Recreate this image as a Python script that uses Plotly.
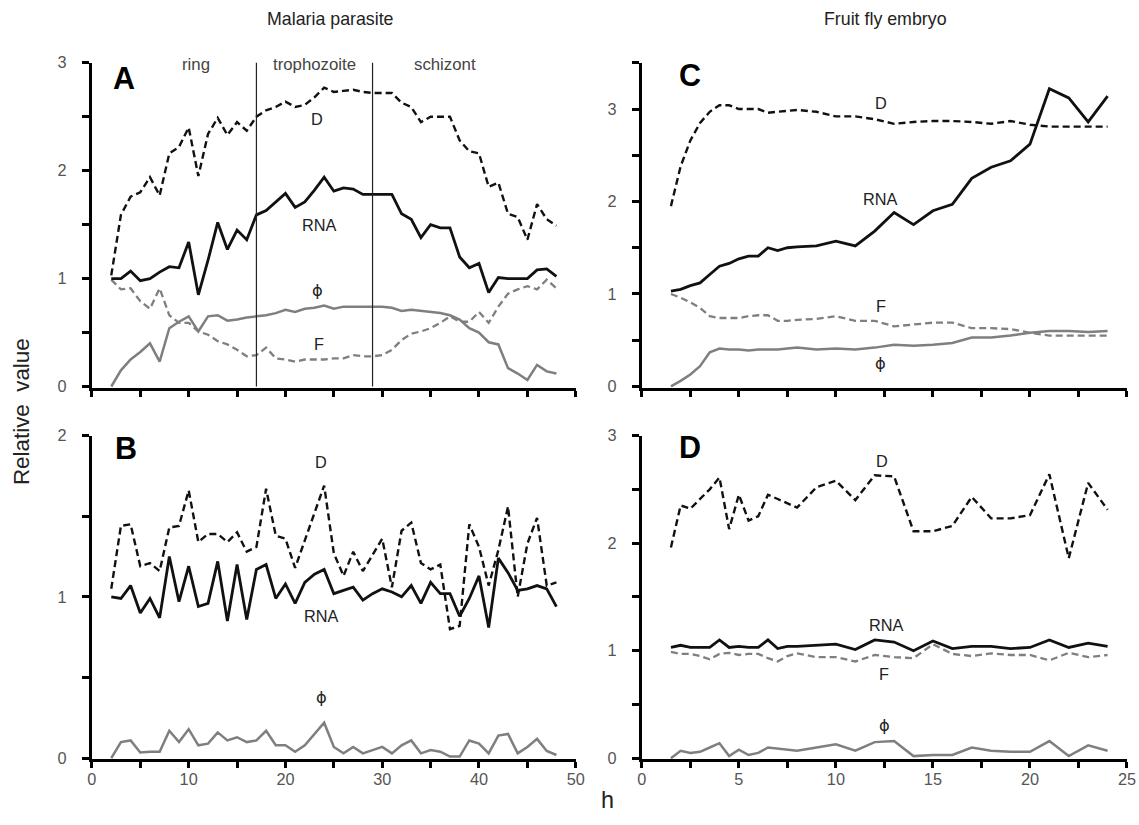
import plotly.graph_objects as go

# ---------------- data ----------------
# Malaria parasite (hours 2..48)
hours_malaria = list(range(2, 49))
A_D = [1.03, 1.59, 1.76, 1.80, 1.94, 1.77, 2.16, 2.22, 2.40, 1.95, 2.34, 2.49, 2.33, 2.45, 2.37, 2.50,
       2.56, 2.59, 2.64, 2.59, 2.61, 2.68, 2.77, 2.73, 2.74, 2.75, 2.73, 2.72, 2.72, 2.72, 2.63, 2.59,
       2.45, 2.50, 2.50, 2.50, 2.28, 2.18, 2.16, 1.85, 1.89, 1.60, 1.57, 1.36, 1.69, 1.55, 1.49]
A_RNA = [1.00, 1.00, 1.07, 0.98, 1.00, 1.06, 1.11, 1.10, 1.34, 0.85, 1.17, 1.52, 1.27, 1.45, 1.36, 1.59,
         1.63, 1.71, 1.79, 1.66, 1.71, 1.82, 1.94, 1.81, 1.84, 1.83, 1.78, 1.78, 1.78, 1.78, 1.60, 1.55,
         1.38, 1.50, 1.47, 1.47, 1.20, 1.10, 1.14, 0.87, 1.01, 1.00, 1.00, 1.00, 1.08, 1.09, 1.02]
A_F = [0.99, 0.90, 0.91, 0.79, 0.72, 0.91, 0.66, 0.59, 0.59, 0.51, 0.48, 0.42, 0.39, 0.34, 0.28, 0.29,
       0.36, 0.26, 0.25, 0.23, 0.25, 0.25, 0.25, 0.26, 0.26, 0.29, 0.28, 0.28, 0.29, 0.34, 0.43, 0.49,
       0.51, 0.54, 0.59, 0.65, 0.60, 0.60, 0.69, 0.59, 0.74, 0.86, 0.90, 0.93, 0.90, 0.99, 0.91]
A_PHI = [0.00, 0.15, 0.25, 0.32, 0.40, 0.23, 0.54, 0.60, 0.65, 0.51, 0.65, 0.66, 0.61, 0.62, 0.64, 0.65,
         0.66, 0.68, 0.71, 0.69, 0.72, 0.73, 0.75, 0.72, 0.74, 0.74, 0.74, 0.74, 0.74, 0.73, 0.70, 0.71,
         0.70, 0.69, 0.68, 0.66, 0.62, 0.54, 0.50, 0.41, 0.39, 0.17, 0.12, 0.06, 0.20, 0.14, 0.12]

B_D = [1.05, 1.44, 1.45, 1.19, 1.21, 1.16, 1.43, 1.44, 1.66, 1.34, 1.39, 1.39, 1.34, 1.40, 1.28, 1.31,
       1.67, 1.38, 1.36, 1.18, 1.35, 1.52, 1.69, 1.27, 1.13, 1.28, 1.16, 1.26, 1.36, 1.06, 1.41, 1.46,
       1.21, 1.17, 1.20, 0.80, 0.82, 1.45, 1.31, 1.07, 1.29, 1.56, 1.00, 1.33, 1.49, 1.07, 1.09]
B_RNA = [1.00, 0.99, 1.07, 0.90, 0.99, 0.87, 1.25, 0.97, 1.19, 0.94, 0.96, 1.22, 0.85, 1.20, 0.86, 1.17,
         1.20, 0.99, 1.08, 0.96, 1.09, 1.14, 1.17, 1.02, 1.04, 1.06, 0.98, 1.02, 1.05, 1.03, 1.00, 1.07,
         0.96, 1.09, 1.02, 1.02, 0.88, 0.99, 1.13, 0.81, 1.24, 1.15, 1.04, 1.05, 1.07, 1.05, 0.94]
B_PHI = [0.00, 0.10, 0.11, 0.035, 0.04, 0.04, 0.17, 0.10, 0.18, 0.08, 0.09, 0.16, 0.11, 0.13, 0.10, 0.11,
         0.17, 0.08, 0.08, 0.04, 0.08, 0.15, 0.22, 0.07, 0.03, 0.07, 0.03, 0.05, 0.07, 0.03, 0.08, 0.11,
         0.03, 0.05, 0.04, 0.01, 0.01, 0.11, 0.09, 0.03, 0.14, 0.15, 0.03, 0.07, 0.12, 0.045, 0.02]

stage_bounds = [17, 29]
stage_names = ["ring", "trophozoite", "schizont"]
stage_label_x = [10.8, 23.0, 36.5]

# Fruit fly embryo
hours_fly = [1.5, 2, 2.5, 3, 3.5, 4, 4.5, 5, 5.5, 6, 6.5, 7, 7.5, 8,
             9, 10, 11, 12, 13, 14, 15, 16, 17, 18, 19, 20, 21, 22, 23, 24]
C_D = [1.95, 2.38, 2.66, 2.85, 2.97, 3.04, 3.04, 3.00, 3.00, 3.00, 2.96, 2.97, 2.98, 2.99,
       2.97, 2.92, 2.92, 2.89, 2.84, 2.86, 2.87, 2.87, 2.86, 2.84, 2.87, 2.83, 2.81, 2.81, 2.81, 2.81]
C_RNA = [1.03, 1.05, 1.09, 1.12, 1.21, 1.30, 1.33, 1.38, 1.41, 1.41, 1.50, 1.47, 1.50, 1.51,
         1.52, 1.57, 1.52, 1.68, 1.88, 1.75, 1.90, 1.97, 2.25, 2.37, 2.44, 2.62, 3.22, 3.12, 2.86, 3.14]
C_F = [1.00, 0.96, 0.91, 0.85, 0.76, 0.74, 0.74, 0.74, 0.76, 0.77, 0.77, 0.71, 0.71, 0.72,
       0.73, 0.76, 0.71, 0.71, 0.65, 0.67, 0.69, 0.69, 0.63, 0.63, 0.62, 0.58, 0.55, 0.55, 0.55, 0.55]
C_PHI = [0.00, 0.06, 0.13, 0.22, 0.37, 0.41, 0.40, 0.40, 0.39, 0.40, 0.40, 0.40, 0.41, 0.42,
         0.40, 0.41, 0.40, 0.42, 0.45, 0.44, 0.45, 0.47, 0.53, 0.53, 0.55, 0.58, 0.60, 0.60, 0.59, 0.60]

D_D = [1.96, 2.35, 2.32, 2.41, 2.50, 2.61, 2.13, 2.45, 2.21, 2.25, 2.45, 2.41, 2.37, 2.33,
       2.52, 2.58, 2.40, 2.63, 2.62, 2.11, 2.11, 2.16, 2.43, 2.23, 2.23, 2.26, 2.64, 1.86, 2.56, 2.31]
D_RNA = [1.03, 1.05, 1.03, 1.03, 1.03, 1.10, 1.03, 1.04, 1.03, 1.03, 1.10, 1.02, 1.04, 1.04,
         1.05, 1.06, 1.01, 1.10, 1.08, 1.00, 1.09, 1.02, 1.04, 1.04, 1.02, 1.03, 1.10, 1.03, 1.07, 1.04]
D_F = [0.99, 0.97, 0.97, 0.95, 0.92, 0.97, 0.98, 0.96, 0.97, 0.97, 0.93, 0.90, 0.95, 0.975,
       0.94, 0.94, 0.90, 0.96, 0.94, 0.93, 1.06, 0.97, 0.95, 0.975, 0.96, 0.96, 0.91, 0.98, 0.94, 0.96]
D_PHI = [0.00, 0.07, 0.05, 0.06, 0.10, 0.14, 0.02, 0.08, 0.03, 0.05, 0.10, 0.09, 0.08, 0.07,
         0.10, 0.13, 0.07, 0.15, 0.16, 0.02, 0.03, 0.03, 0.10, 0.07, 0.06, 0.06, 0.16, 0.02, 0.12, 0.07]

# ---------------- styling ----------------
FONT = "Liberation Sans, Arial, Helvetica, sans-serif"
PHI_FONT = "DejaVu Sans, Liberation Sans, sans-serif"
BLACK = "#111111"
GRAY = "#7f7f7f"
DASH = "7px,4px"

styles = {
    "D": dict(color=BLACK, width=2.4, dash=DASH),
    "RNA": dict(color=BLACK, width=2.8, dash="solid"),
    "F": dict(color=GRAY, width=2.3, dash=DASH),
    "PHI": dict(color=GRAY, width=2.5, dash="solid"),
}

fig = go.Figure()

panels = [
    ("x", "y", hours_malaria, {"D": A_D, "RNA": A_RNA, "F": A_F, "PHI": A_PHI}),
    ("x2", "y2", hours_malaria, {"D": B_D, "RNA": B_RNA, "PHI": B_PHI}),
    ("x3", "y3", hours_fly, {"D": C_D, "RNA": C_RNA, "F": C_F, "PHI": C_PHI}),
    ("x4", "y4", hours_fly, {"D": D_D, "RNA": D_RNA, "F": D_F, "PHI": D_PHI}),
]
for xa, ya, xs, series in panels:
    for key in ["PHI", "F", "RNA", "D"]:
        if key in series:
            fig.add_trace(go.Scatter(x=xs, y=series[key], mode="lines", xaxis=xa, yaxis=ya,
                                     line=styles[key], showlegend=False, hoverinfo="skip"))

# stage boundaries in panel A
for b in stage_bounds:
    fig.add_shape(type="line", xref="x", yref="y", x0=b, x1=b, y0=0, y1=3.08,
                  line=dict(color="#222222", width=1.2))

W, H = 1139, 825
# empirical correction between page pixels and the photographed picture
SX, OX = 0.99, 3.4
SY, OY = 0.98, 8.2

def fx(t):  # target picture pixel -> paper x
    return ((t - OX) / SX) / W

def fy(t):  # target picture pixel -> paper y
    return 1 - ((t - OY) / SY) / H

left_dom = [fx(90.5), fx(575.5)]
right_dom = [fx(641.7), fx(1128)]
top_dom = [fy(387), fy(62)]
bot_dom = [fy(759), fy(435)]

tickfont = dict(family=FONT, size=16.3, color="#555555")

def xaxis(dom, rng, dtick, minor, labels, anchor):
    return dict(domain=dom, range=rng, anchor=anchor, showgrid=False, zeroline=False,
                showline=True, linecolor="black", linewidth=3,
                ticks="outside", ticklen=6, tickwidth=2.5, tickcolor="black",
                dtick=dtick, tick0=0, showticklabels=labels, tickfont=tickfont,
                ticklabelstandoff=-3, ticklabeloverflow="allow",
                minor=dict(dtick=minor, tick0=0, ticks="outside", ticklen=6, tickwidth=2.5,
                           tickcolor="black", showgrid=False))

def yaxis(dom, rng, anchor):
    return dict(domain=dom, range=rng, anchor=anchor, showgrid=False, zeroline=False,
                showline=True, linecolor="black", linewidth=3,
                ticks="outside", ticklen=7, tickwidth=2.5, tickcolor="black",
                dtick=1, tick0=0, tickfont=tickfont, ticklabelstandoff=12,
                minor=dict(dtick=0.5, tick0=0, ticks="outside", ticklen=7, tickwidth=2.5,
                           tickcolor="black", showgrid=False))

fig.update_layout(
    width=W, height=H, margin=dict(l=0, r=0, t=0, b=0),
    paper_bgcolor="white", plot_bgcolor="white",
    font=dict(family=FONT, color="#222222"),
    xaxis=xaxis(left_dom, [0, 50], 10, 5, False, "y"),
    yaxis=yaxis(top_dom, [-0.01, 3], "x"),
    xaxis2=xaxis(left_dom, [0, 50], 10, 5, True, "y2"),
    yaxis2=yaxis(bot_dom, [-0.007, 2], "x2"),
    xaxis3=xaxis(right_dom, [0, 25], 5, 2.5, False, "y3"),
    yaxis3=yaxis(top_dom, [-0.012, 3.5], "x3"),
    xaxis4=xaxis(right_dom, [0, 25], 5, 2.5, True, "y4"),
    yaxis4=yaxis(bot_dom, [-0.01, 3], "x4"),
)

ann = []
def label(text, x, y, xref, yref, size=16.3, color="#222222", bold=False, family=FONT):
    ann.append(dict(text=f"<b>{text}</b>" if bold else text, x=x, y=y, xref=xref, yref=yref,
                    showarrow=False, xanchor="center", yanchor="middle",
                    font=dict(family=family, size=size, color=color)))

# panel letters
label("A", 3.35, 2.86, "x", "y", size=30.5, color="black", bold=True)
label("B", 3.5, 1.92, "x2", "y2", size=30.5, color="black", bold=True)
label("C", 2.5, 3.37, "x3", "y3", size=30.5, color="black", bold=True)
label("D", 2.5, 2.89, "x4", "y4", size=30.5, color="black", bold=True)

# stage labels
for name, sx in zip(stage_names, stage_label_x):
    label(name, sx, 2.98, "x", "y", size=16.8, color="#444444")

# line labels
label("D", 23.3, 2.48, "x", "y")
label("RNA", 23.5, 1.50, "x", "y")
label("ϕ", 23.3, 0.89, "x", "y", family=PHI_FONT)
label("F", 23.5, 0.39, "x", "y")

label("D", 23.7, 1.835, "x2", "y2")
label("RNA", 23.7, 0.88, "x2", "y2")
label("ϕ", 23.7, 0.375, "x2", "y2", family=PHI_FONT)

label("D", 12.3, 3.06, "x3", "y3")
label("RNA", 12.3, 2.03, "x3", "y3")
label("F", 12.3, 0.87, "x3", "y3")
label("ϕ", 12.3, 0.25, "x3", "y3", family=PHI_FONT)

label("D", 12.4, 2.76, "x4", "y4")
label("RNA", 12.6, 1.235, "x4", "y4")
label("F", 12.5, 0.78, "x4", "y4")
label("ϕ", 12.5, 0.30, "x4", "y4", family=PHI_FONT)

# titles and axis labels
def paper_text(text, tx, ty, size, angle=0):
    ann.append(dict(text=text, x=fx(tx), y=fy(ty), xref="paper", yref="paper",
                    showarrow=False, xanchor="center", yanchor="middle", textangle=angle,
                    font=dict(family=FONT, size=size, color="#222222")))

paper_text("Malaria parasite", 330, 18, 17.8)
paper_text("Fruit fly embryo", 886, 18, 17.8)
paper_text("Relative  value", 20, 411, 22.4, angle=-90)
paper_text("h", 607, 800, 23.4)

fig.update_layout(annotations=ann)
fig.write_html(
    "out.html",
    config={"displayModeBar": False},
    post_script="document.body.style.margin='0';document.body.style.overflow='hidden';",
)
